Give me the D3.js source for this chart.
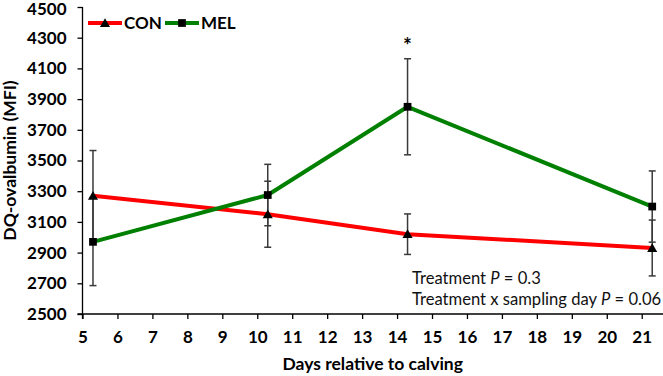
<!DOCTYPE html>
<html>
<head>
<meta charset="utf-8">
<script src="https://cdn.jsdelivr.net/npm/d3@7"></script>
<style>
  body { margin: 0; background: #fff; }
  svg { display: block; font-family: Lato, "Open Sans", sans-serif; }
</style>
</head>
<body>
<div id="chart"></div>
<script>
const days = [5.3, 10.3, 14.3, 21.3];
const conMean = [3270, 3150, 3020, 2930];
const conSE = [295, 215, 132, 182];
const melMean = [2970, 3275, 3850, 3200];
const melSE = [285, 200, 313, 232];
const xTicks = [5, 6, 7, 8, 9, 10, 11, 12, 13, 14, 15, 16, 17, 18, 19, 20, 21];
const yTicks = [2500, 2700, 2900, 3100, 3300, 3500, 3700, 3900, 4100, 4300, 4500];
const statsText = ["Treatment", "Treatment x sampling day"];
const statsP = ["0.3", "0.06"];

const width = 663;
const height = 376;

const svg = d3.select("#chart")
  .append("svg")
  .attr("width", width)
  .attr("height", height);

const x = d3.scaleLinear().domain([5, 21.58]).range([82.5, 662]);
const y = d3.scaleLinear().domain([2500, 4500]).range([314, 7]);

// axes
const xAxis = svg.append("g")
  .attr("transform", `translate(0,${y(2500)})`)
  .call(d3.axisBottom(x).tickValues(xTicks).tickSize(5).tickPadding(12).tickSizeOuter(0));
const yAxis = svg.append("g")
  .attr("transform", `translate(${x(5)},0)`)
  .call(d3.axisLeft(y).tickValues(yTicks).tickFormat(d3.format("d")).tickSize(5).tickPadding(11).tickSizeOuter(0));

[xAxis, yAxis].forEach((g) => {
  g.select(".domain").attr("stroke", "#000").attr("stroke-width", 1.3);
  g.selectAll(".tick line").attr("stroke", "#000").attr("stroke-width", 1.3);
  g.selectAll(".tick text")
    .attr("font-family", "Lato, sans-serif")
    .attr("font-weight", "bold")
    .attr("font-size", 17)
    .attr("fill", "#000");
});
// top label sits at the very edge; nudge it inside
yAxis.selectAll(".tick text").filter((d) => d === 4500).attr("dy", "0.42em");
// let the axes cross slightly, as in the original
xAxis.select(".domain").attr("d", `M${x(5) - 5},0H${width}`);
yAxis.select(".domain").attr("d", `M0,${y(4500)}V${y(2500) + 5}`);

// axis titles
svg.append("text")
  .attr("x", (x(5) + width) / 2)
  .attr("y", 370)
  .attr("text-anchor", "middle")
  .attr("font-weight", "bold")
  .attr("font-size", 17.5)
  .text("Days relative to calving");

svg.append("text")
  .attr("transform", `translate(16,${(y(2500) + y(4500)) / 2}) rotate(-90)`)
  .attr("text-anchor", "middle")
  .attr("font-weight", "bold")
  .attr("font-size", 17.5)
  .text("DQ-ovalbumin (MFI)");

const series = [
  { name: "CON", mean: conMean, se: conSE, color: "#ff0000", marker: "triangle" },
  { name: "MEL", mean: melMean, se: melSE, color: "#008000", marker: "square" }
];

const line = d3.line().x((d) => x(d.day)).y((d) => y(d.v));
const pts = (s) => days.map((day, i) => ({ day, v: s.mean[i], se: s.se[i] }));

series.forEach((s) => {
  svg.append("path")
    .datum(pts(s))
    .attr("fill", "none")
    .attr("stroke", s.color)
    .attr("stroke-width", 4)
    .attr("stroke-linejoin", "round")
    .attr("d", line);
});

// error bars
series.forEach((s) => {
  const g = svg.append("g").attr("stroke", "#3a3a3a").attr("stroke-width", 1.5);
  const data = pts(s);
  g.selectAll("line.v").data(data).join("line")
    .attr("x1", (d) => x(d.day)).attr("x2", (d) => x(d.day))
    .attr("y1", (d) => y(d.v - d.se)).attr("y2", (d) => y(d.v + d.se));
  g.selectAll("line.t").data(data).join("line")
    .attr("x1", (d) => x(d.day) - 3.5).attr("x2", (d) => x(d.day) + 3.5)
    .attr("y1", (d) => y(d.v + d.se)).attr("y2", (d) => y(d.v + d.se));
  g.selectAll("line.b").data(data).join("line")
    .attr("x1", (d) => x(d.day) - 3.5).attr("x2", (d) => x(d.day) + 3.5)
    .attr("y1", (d) => y(d.v - d.se)).attr("y2", (d) => y(d.v - d.se));
});

const symbolFor = (m) => m === "triangle"
  ? d3.symbol().type(d3.symbolTriangle).size(44)
  : d3.symbol().type(d3.symbolSquare).size(60);

series.forEach((s) => {
  svg.append("g")
    .selectAll("path")
    .data(pts(s))
    .join("path")
    .attr("transform", (d) => `translate(${x(d.day)},${y(d.v) + (s.marker === "triangle" ? 1 : 0)})`)
    .attr("d", symbolFor(s.marker)())
    .attr("fill", "#000");
});

// significance star
svg.append("text")
  .attr("x", x(days[2]))
  .attr("y", 53)
  .attr("text-anchor", "middle")
  .attr("font-weight", "bold")
  .attr("font-size", 21)
  .text("*");

// legend
const legend = [
  { s: series[0], x0: 88 },
  { s: series[1], x0: 165 }
];
legend.forEach(({ s, x0 }) => {
  const g = svg.append("g").attr("transform", `translate(${x0},23)`);
  g.append("line").attr("x1", 0).attr("x2", 34).attr("stroke", s.color).attr("stroke-width", 4);
  g.append("path")
    .attr("transform", `translate(17,${s.marker === "triangle" ? 1 : 0})`)
    .attr("d", symbolFor(s.marker)())
    .attr("fill", "#000");
  g.append("text")
    .attr("x", 36)
    .attr("y", 6)
    .attr("font-weight", "bold")
    .attr("font-size", 17)
    .text(s.name);
});

// stats annotation
statsText.forEach((t, i) => {
  const txt = svg.append("text")
    .attr("x", 412)
    .attr("y", 284 + i * 21)
    .attr("font-size", 16.6)
    .attr("fill", "#111");
  txt.append("tspan").text(t + " ");
  txt.append("tspan").attr("font-style", "italic").text("P");
  txt.append("tspan").text(" = " + statsP[i]);
});
</script>
</body>
</html>
